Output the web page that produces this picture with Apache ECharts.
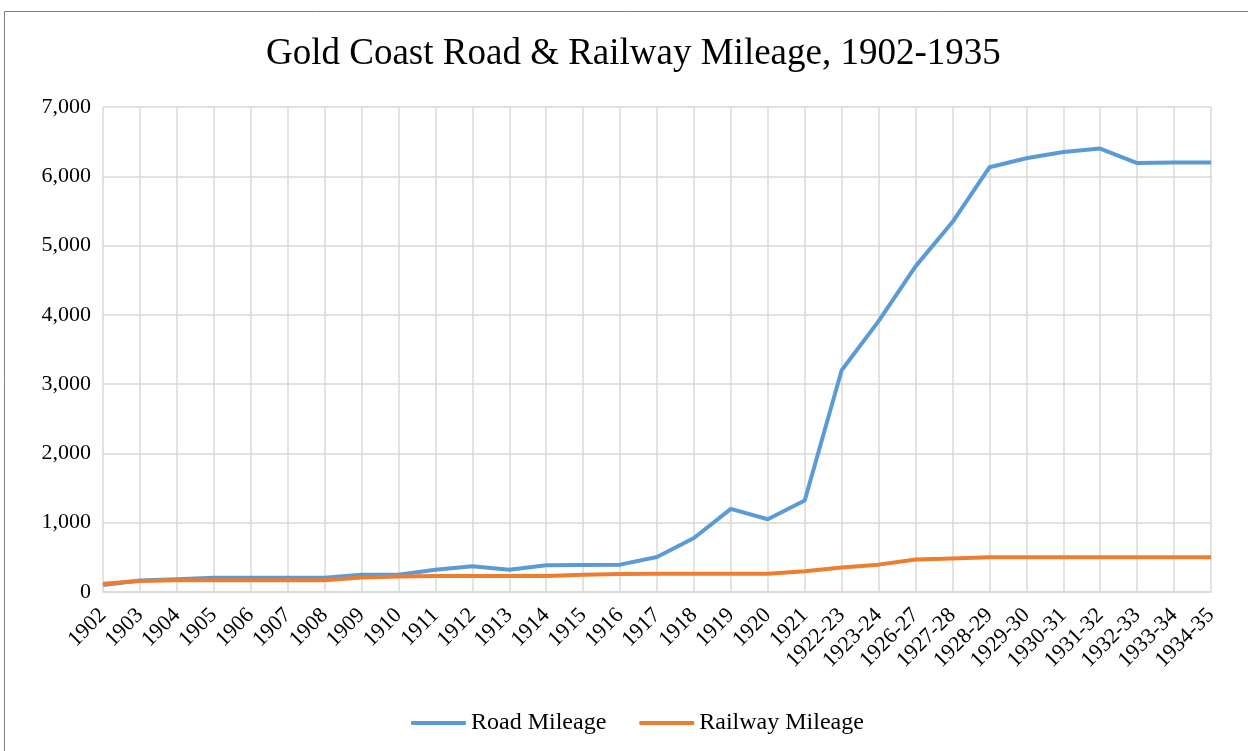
<!DOCTYPE html>
<html>
<head>
<meta charset="utf-8">
<script src="https://cdn.jsdelivr.net/npm/echarts@6/dist/echarts.min.js"></script>
<style>html,body{margin:0;padding:0;background:#fff;}#c{width:1248px;height:751px;}</style>
</head>
<body>
<div id="c"></div>
<script>
const categories = ['1902','1903','1904','1905','1906','1907','1908','1909','1910','1911','1912','1913','1914','1915','1916','1917','1918','1919','1920','1921','1922-23','1923-24','1926-27','1927-28','1928-29','1929-30','1930-31','1931-32','1932-33','1933-34','1934-35'];
const roadMileage = [100,165,185,205,205,205,205,250,250,320,370,320,385,390,395,505,780,1200,1050,1320,3200,3910,4700,5340,6130,6260,6350,6400,6190,6200,6200];
const railwayMileage = [120,160,170,170,170,170,170,210,225,230,230,230,230,250,260,262,262,262,262,300,355,395,470,485,500,500,500,500,500,500,500];
const yTicks = {min:0, max:7000, interval:1000};

const chart = echarts.init(document.getElementById('c'));
const font = 'Liberation Serif, Times New Roman, serif';
chart.setOption({
  animation:false,
  backgroundColor:'#fff',
  graphic:[{type:'rect',shape:{x:4.5,y:11.5,width:1400,height:900},style:{fill:'none',stroke:'#7f7f7f',lineWidth:1},silent:true}],
  title:{text:'Gold Coast Road & Railway Mileage, 1902-1935',left:261,top:31,
    textStyle:{fontFamily:font,fontSize:37,fontWeight:'normal',color:'#000'}},
  legend:{top:706,left:406,itemWidth:55,itemHeight:4,itemGap:33,icon:'roundRect',
    textStyle:{fontFamily:font,fontSize:24,color:'#000'},
    data:['Road Mileage','Railway Mileage']},
  grid:{left:103,right:37,top:107,bottom:159,containLabel:false},
  xAxis:{type:'category',data:categories,boundaryGap:false,
    axisLine:{show:true,lineStyle:{color:'#d9d9d9',width:1.5}},
    axisTick:{show:false},
    splitLine:{show:true,lineStyle:{color:'#d9d9d9',width:1.5}},
    axisLabel:{rotate:45,fontFamily:font,fontSize:22,color:'#000',margin:20,interval:0}},
  yAxis:{type:'value',min:yTicks.min,max:yTicks.max,interval:yTicks.interval,
    axisLine:{show:false},axisTick:{show:false},
    splitLine:{show:true,lineStyle:{color:'#d9d9d9',width:1.5}},
    axisLabel:{fontFamily:font,fontSize:22,color:'#000',margin:12,
      formatter:v=>v.toLocaleString('en-US')}},
  series:[
    {name:'Road Mileage',type:'line',data:roadMileage,symbol:'none',
     lineStyle:{color:'#5b9bd5',width:4},itemStyle:{color:'#5b9bd5'}},
    {name:'Railway Mileage',type:'line',data:railwayMileage,symbol:'none',
     lineStyle:{color:'#ed7d31',width:4},itemStyle:{color:'#ed7d31'}}
  ]
});
</script>
</body>
</html>
